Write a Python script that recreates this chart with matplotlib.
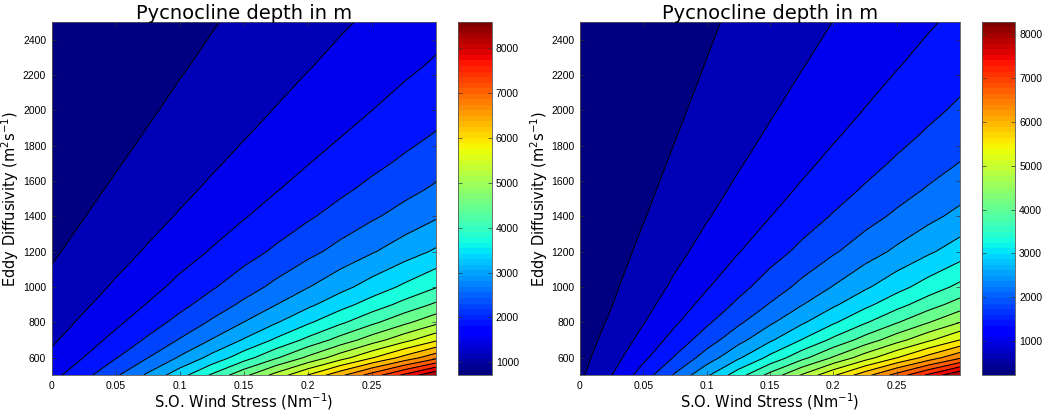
import numpy as np
import matplotlib
matplotlib.use('Agg')
import matplotlib.pyplot as plt
from matplotlib.cm import ScalarMappable
from matplotlib.colors import Normalize

# grid
wind_stress = [0, 0.025, 0.05, 0.075, 0.1, 0.125, 0.15, 0.175, 0.2, 0.225, 0.25, 0.275, 0.3]
eddy_diff = [500, 600, 700, 800, 900, 1000, 1200, 1400, 1550, 1700, 1850, 2000, 2250, 2500]

# pycnocline depth (m), rows = eddy_diff, cols = wind_stress
depth_left = [
    [1715, 2092, 2534, 3030, 3570, 4143, 4741, 5356, 5985, 6624, 7272, 7925, 8583],
    [1539, 1841, 2189, 2579, 3003, 3453, 3924, 4411, 4910, 5418, 5933, 6454, 6980],
    [1408, 1659, 1946, 2266, 2613, 2982, 3369, 3770, 4182, 4602, 5029, 5461, 5897],
    [1306, 1521, 1764, 2034, 2328, 2639, 2967, 3306, 3656, 4013, 4376, 4744, 5117],
    [1223, 1411, 1622, 1856, 2109, 2378, 2661, 2955, 3257, 3567, 3882, 4203, 4527],
    [1155, 1321, 1507, 1713, 1935, 2171, 2420, 2678, 2945, 3218, 3496, 3779, 4066],
    [1046, 1182, 1332, 1497, 1675, 1865, 2064, 2271, 2485, 2705, 2930, 3158, 3390],
    [963, 1078, 1204, 1342, 1490, 1647, 1812, 1985, 2163, 2346, 2533, 2725, 2919],
    [913, 1015, 1128, 1250, 1381, 1520, 1667, 1819, 1977, 2140, 2306, 2476, 2649],
    [869, 962, 1063, 1173, 1291, 1416, 1547, 1684, 1826, 1971, 2121, 2273, 2429],
    [831, 916, 1008, 1108, 1215, 1328, 1447, 1570, 1699, 1831, 1966, 2105, 2246],
    [798, 876, 961, 1052, 1150, 1253, 1361, 1474, 1591, 1712, 1835, 1962, 2091],
    [751, 819, 894, 974, 1059, 1149, 1243, 1342, 1443, 1549, 1657, 1767, 1879],
    [711, 772, 839, 909, 985, 1065, 1148, 1235, 1325, 1418, 1514, 1612, 1711],
]
depth_right = [
    [542, 985, 1562, 2194, 2850, 3517, 4191, 4868, 5547, 6228, 6910, 7593, 8276],
    [487, 837, 1290, 1792, 2316, 2850, 3390, 3934, 4480, 5028, 5576, 6126, 6676],
    [445, 734, 1106, 1521, 1955, 2400, 2850, 3304, 3760, 4218, 4677, 5136, 5596],
    [413, 658, 973, 1325, 1695, 2075, 2461, 2850, 3241, 3634, 4028, 4423, 4819],
    [387, 599, 871, 1176, 1499, 1830, 2167, 2508, 2850, 3194, 3539, 3885, 4232],
    [365, 553, 791, 1060, 1345, 1639, 1938, 2240, 2544, 2850, 3157, 3465, 3773],
    [331, 482, 674, 890, 1120, 1359, 1602, 1848, 2097, 2347, 2598, 2850, 3103],
    [305, 432, 591, 771, 963, 1163, 1368, 1576, 1786, 1997, 2209, 2422, 2636],
    [289, 402, 543, 702, 873, 1052, 1235, 1420, 1608, 1797, 1987, 2178, 2370],
    [275, 377, 503, 646, 800, 961, 1126, 1294, 1463, 1634, 1807, 1979, 2153],
    [263, 356, 470, 600, 739, 885, 1036, 1188, 1343, 1499, 1656, 1814, 1973],
    [252, 338, 442, 560, 688, 822, 959, 1100, 1242, 1385, 1530, 1675, 1821],
    [237, 312, 403, 506, 618, 735, 856, 979, 1104, 1231, 1358, 1486, 1615],
    [225, 291, 372, 463, 562, 666, 773, 883, 995, 1108, 1221, 1336, 1451],
]

xticks = [0, 0.05, 0.1, 0.15, 0.2, 0.25]
xticklabels = ['0', '0.05', '0.1', '0.15', '0.2', '0.25']
yticks = [600, 800, 1000, 1200, 1400, 1600, 1800, 2000, 2200, 2400]
cbar_ticks = [1000, 2000, 3000, 4000, 5000, 6000, 7000, 8000]

jet = plt.get_cmap('jet', 64)
tick_font = 'Liberation Sans'

fig = plt.figure(figsize=(10.48, 4.12), dpi=100)

panels = [
    (depth_left, [0.0493, 0.089, 0.367, 0.858], [0.4367, 0.089, 0.0324, 0.858]),
    (depth_right, [0.5534, 0.089, 0.3626, 0.858], [0.9367, 0.089, 0.0318, 0.858]),
]

for depth, ax_pos, cb_pos in panels:
    z = np.array(depth)
    zmin, zmax = z.min(), z.max()
    # 20 levels between min and max, matlab style
    levels = np.linspace(zmin, zmax, 22)
    norm = Normalize(zmin, zmax)
    band_colors = [jet(norm(v)) for v in levels[:-1]]

    ax = fig.add_axes(ax_pos)
    ax.contourf(wind_stress, eddy_diff, z, levels=levels, colors=band_colors)
    ax.contour(wind_stress, eddy_diff, z, levels=levels[1:-1], colors='k', linewidths=0.75)
    ax.set_xlim(0, 0.3)
    ax.set_ylim(500, 2500)
    ax.set_xticks(xticks)
    ax.set_xticklabels(xticklabels)
    ax.set_yticks(yticks)
    ax.tick_params(direction='in', length=3, width=0.5, top=True, right=True,
                   labelsize=7.5, colors='#333333', pad=4)
    for lab in ax.get_xticklabels() + ax.get_yticklabels():
        lab.set_fontfamily(tick_font)
        lab.set_color('black')
    for sp in ax.spines.values():
        sp.set_linewidth(0.6)
        sp.set_color('#555555')
    ax.set_title('Pycnocline depth in m', fontsize=14, pad=2)
    ax.set_xlabel('S.O. Wind Stress (Nm$^{-1}$)', fontsize=10.5, labelpad=0)
    ax.set_ylabel('Eddy Diffusivity (m$^{2}$s$^{-1}$)', fontsize=10.5, labelpad=1)

    cax = fig.add_axes(cb_pos)
    cb = fig.colorbar(ScalarMappable(norm=norm, cmap=jet), cax=cax, ticks=cbar_ticks)
    cb.outline.set_linewidth(0.6)
    cb.outline.set_edgecolor('#555555')
    cax.tick_params(direction='in', length=3, width=0.5, left=True, right=True,
                    labelsize=7.5, colors='#333333', pad=3)
    for lab in cax.get_yticklabels():
        lab.set_fontfamily(tick_font)
        lab.set_color('black')

fig.savefig('out.png', dpi=100)
